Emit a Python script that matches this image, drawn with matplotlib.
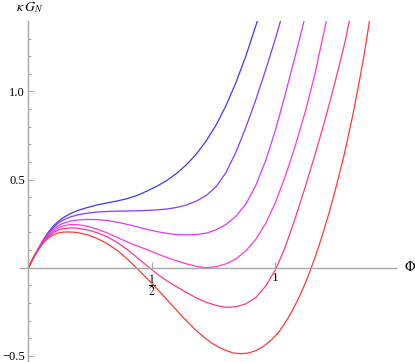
import matplotlib
matplotlib.use("Agg")
import matplotlib.pyplot as plt
from matplotlib.ticker import FixedLocator
import colorsys

plt.rcParams['mathtext.fontset'] = 'stix'
plt.rcParams['font.family'] = ['Liberation Serif', 'DejaVu Serif']

# Curves (Phi, kappa*G_N), blue -> red
x_blue = [0, 0.02, 0.04, 0.06, 0.08, 0.10, 0.12, 0.14, 0.17, 0.20, 0.24, 0.28, 0.32, 0.36, 0.40,
          0.44, 0.48, 0.52, 0.56, 0.60, 0.64, 0.68, 0.72, 0.76, 0.80, 0.84, 0.88, 0.92, 0.928]
y_blue = [0, 0.057, 0.108, 0.157, 0.200, 0.235, 0.262, 0.283, 0.307, 0.325, 0.342, 0.357, 0.368, 0.379, 0.392,
          0.410, 0.435, 0.462, 0.495, 0.535, 0.585, 0.645, 0.720, 0.810, 0.920, 1.050, 1.200, 1.370, 1.406]

x_purple = [0, 0.02, 0.04, 0.06, 0.08, 0.10, 0.12, 0.14, 0.17, 0.20, 0.24, 0.28, 0.32, 0.36, 0.40,
            0.44, 0.48, 0.52, 0.56, 0.60, 0.64, 0.68, 0.72, 0.76, 0.80, 0.84, 0.88, 0.92, 0.96, 1.0, 1.022]
y_purple = [0, 0.056, 0.107, 0.155, 0.196, 0.228, 0.252, 0.270, 0.288, 0.300, 0.310, 0.316, 0.319, 0.321, 0.322,
            0.323, 0.325, 0.328, 0.333, 0.342, 0.356, 0.378, 0.410, 0.460, 0.540, 0.655, 0.795, 0.950, 1.120, 1.300, 1.406]

x_magenta = [0, 0.02, 0.04, 0.06, 0.08, 0.10, 0.12, 0.14, 0.17, 0.20, 0.24, 0.28, 0.32, 0.36, 0.40,
             0.44, 0.48, 0.52, 0.56, 0.60, 0.64, 0.68, 0.72, 0.76, 0.80, 0.84, 0.88, 0.92, 0.96, 1.0, 1.04, 1.08, 1.117]
y_magenta = [0, 0.056, 0.106, 0.152, 0.190, 0.218, 0.238, 0.252, 0.265, 0.271, 0.274, 0.273, 0.268, 0.258, 0.246,
             0.232, 0.218, 0.205, 0.195, 0.188, 0.186, 0.188, 0.196, 0.215, 0.245, 0.292, 0.360, 0.465, 0.605, 0.780, 0.985, 1.200, 1.406]

x_pink = [0, 0.02, 0.04, 0.06, 0.08, 0.10, 0.12, 0.14, 0.17, 0.20, 0.24, 0.28, 0.32, 0.36, 0.40,
          0.44, 0.48, 0.52, 0.56, 0.60, 0.64, 0.68, 0.715, 0.76, 0.80, 0.84, 0.88, 0.92, 0.96, 1.0, 1.04, 1.08, 1.12, 1.16, 1.20, 1.207]
y_pink = [0, 0.056, 0.105, 0.148, 0.182, 0.207, 0.225, 0.237, 0.245, 0.244, 0.235, 0.218, 0.197, 0.172, 0.146,
          0.124, 0.103, 0.080, 0.058, 0.039, 0.022, 0.008, 0.0, 0.006, 0.022, 0.050, 0.095, 0.160, 0.250, 0.370, 0.520, 0.690, 0.880, 1.100, 1.360, 1.406]

x_rose = [0, 0.02, 0.04, 0.06, 0.08, 0.10, 0.12, 0.14, 0.17, 0.20, 0.24, 0.28, 0.32, 0.36, 0.40,
          0.44, 0.48, 0.52, 0.56, 0.60, 0.64, 0.68, 0.72, 0.76, 0.80, 0.84, 0.88, 0.92, 0.96, 1.0,
          1.04, 1.08, 1.12, 1.16, 1.20, 1.24, 1.28, 1.30]
y_rose = [0, 0.056, 0.104, 0.145, 0.176, 0.198, 0.213, 0.222, 0.226, 0.224, 0.214, 0.198, 0.175, 0.143, 0.103,
          0.058, 0.011, -0.034, -0.074, -0.108, -0.141, -0.171, -0.196, -0.214, -0.225, -0.222, -0.205, -0.170, -0.105, -0.012,
          0.118, 0.280, 0.455, 0.640, 0.835, 1.045, 1.270, 1.406]

x_red = [0, 0.02, 0.04, 0.06, 0.08, 0.10, 0.12, 0.14, 0.16, 0.18, 0.20, 0.24, 0.28, 0.32, 0.36, 0.40,
         0.44, 0.47, 0.50, 0.53, 0.56, 0.59, 0.62, 0.65, 0.68, 0.71, 0.74, 0.77, 0.80, 0.83, 0.863,
         0.89, 0.92, 0.95, 0.98, 1.01, 1.04, 1.07, 1.10, 1.13, 1.16, 1.19, 1.22, 1.25, 1.28, 1.31, 1.34, 1.36, 1.38, 1.382]
y_red = [0, 0.055, 0.102, 0.140, 0.168, 0.186, 0.197, 0.202, 0.203, 0.202, 0.199, 0.186, 0.165, 0.136, 0.098, 0.050,
         -0.004, -0.047, -0.088, -0.134, -0.180, -0.226, -0.272, -0.316, -0.357, -0.393, -0.425, -0.451, -0.470, -0.484, -0.488,
         -0.484, -0.471, -0.448, -0.414, -0.372, -0.312, -0.240, -0.156, -0.057, 0.057, 0.184, 0.324, 0.481, 0.651, 0.844, 1.059, 1.216, 1.391, 1.41]

series = [(x_blue, y_blue), (x_purple, y_purple), (x_magenta, y_magenta),
          (x_pink, y_pink), (x_rose, y_rose), (x_red, y_red)]
hues = [0.667, 0.733, 0.8, 0.867, 0.933, 1.0]

W, H = 415, 362
fig = plt.figure(figsize=(W / 100, H / 100), dpi=100)
left_px, right_px, top_px, bottom_px = 20, 395.7, 21, 362
ax = fig.add_axes([left_px / W, 1 - bottom_px / H, (right_px - left_px) / W, (bottom_px - top_px) / H])
ax.set_xlim(-0.034, 1.487)
ax.set_ylim(-0.535, 1.40)

for (xs, ys), h in zip(series, hues):
    r, g, b = colorsys.hsv_to_rgb(h % 1.0, 1.0, 1.0)
    f = 0.22
    c = (r * (1 - f) + f, g * (1 - f) + f, b * (1 - f) + f)
    ax.plot(xs, ys, color=c, lw=0.9, solid_joinstyle='round', solid_capstyle='butt')

axis_col = '#a8a8a8'
for s in ['top', 'right']:
    ax.spines[s].set_visible(False)
ax.spines['left'].set_position(('data', 0))
ax.spines['bottom'].set_position(('data', 0))
for s in ['left', 'bottom']:
    ax.spines[s].set_color(axis_col)
    ax.spines[s].set_linewidth(1.0)

ax.xaxis.set_major_locator(FixedLocator([0.5, 1.0]))
ax.set_xticklabels([r'$\dfrac{1}{2}$', '1'])
ax.yaxis.set_major_locator(FixedLocator([-0.5, 0.5, 1.0]))
ax.set_yticklabels(['\u22120.5', '0.5', '1.0'])
ax.yaxis.set_minor_locator(FixedLocator([v / 10 for v in range(-5, 14) if v % 5 != 0]))

ax.tick_params(axis='both', which='both', direction='in', color=axis_col)
ax.tick_params(axis='y', labelsize=9, pad=2.5)
ax.tick_params(axis='x', labelsize=9.5, pad=3)
for lab in ax.get_xticklabels()[:1]:
    lab.set_fontsize(8.5)
ax.tick_params(axis='both', which='major', length=4, width=0.8)
ax.tick_params(axis='both', which='minor', length=2.5, width=0.7)

fig.text(16 / W, 1 - 8 / H, r'$\kappa\;G_N$', fontsize=10, ha='left', va='center')
fig.text(410 / W, 1 - 267 / H, r'$\Phi$', fontsize=10, ha='center', va='center')

fig.savefig('out.png', dpi=100)
